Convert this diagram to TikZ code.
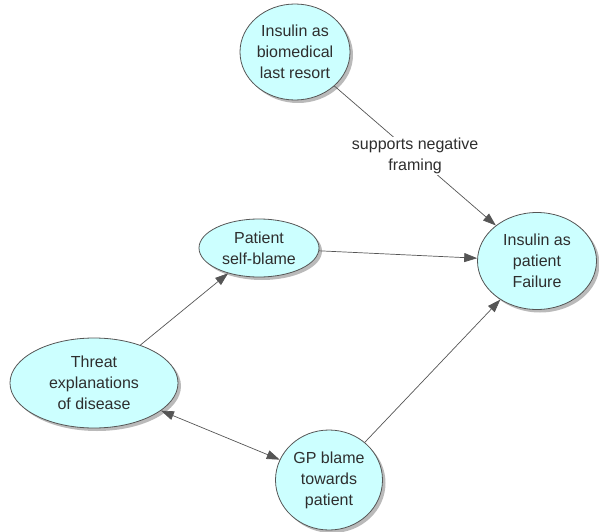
\documentclass[tikz,border=0pt]{standalone}
\usepackage{fontspec}
\setmainfont{Liberation Sans}
\usetikzlibrary{shapes.geometric,shadows,arrows.meta}
\definecolor{bubble}{HTML}{CCFFFF}
\definecolor{rim}{HTML}{555555}
\definecolor{ink}{HTML}{2E2E2E}
\definecolor{wire}{HTML}{555555}
\tikzset{
  concept/.style={ellipse, draw=rim, line width=0.8pt, fill=bubble, inner sep=0pt,
    align=center, text=ink, font=\fontsize{16}{21}\selectfont,
    drop shadow={shadow xshift=3pt, shadow yshift=-3pt, fill=black!45, opacity=0.6}},
  link/.style={draw=wire, line width=0.7pt, -{Triangle[length=13pt,width=9pt]}},
  both/.style={draw=wire, line width=0.7pt, {Triangle[length=13pt,width=9pt]}-{Triangle[length=13pt,width=9pt]}},
  tag/.style={fill=white, align=center, text=ink, font=\fontsize{16}{21}\selectfont, inner sep=1pt}
}
\begin{document}
\begin{tikzpicture}[x=1pt,y=-1pt]
\useasboundingbox (0,0) rectangle (599,532);
\node[concept, minimum width=110pt, minimum height=96pt] (last) at (295,52) {Insulin as\\biomedical\\last resort};
\node[concept, minimum width=119pt, minimum height=97pt] (fail) at (537,261) {Insulin as\\patient\\Failure};
\node[concept, minimum width=120pt, minimum height=58pt] (self) at (259,248) {Patient\\self-blame};
\node[concept, minimum width=168pt, minimum height=90pt] (threat) at (94,383) {Threat\\explanations\\of disease};
\node[concept, minimum width=107pt, minimum height=100pt] (gp) at (329,480) {GP blame\\towards\\patient};

\draw[link] (last) -- node[tag] {supports negative\\framing} (fail);
\draw[link] (self) -- (fail);
\draw[link] (threat) -- (self);
\draw[both] (threat) -- (gp);
\draw[link] (gp) -- (fail);
\end{tikzpicture}
\end{document}
